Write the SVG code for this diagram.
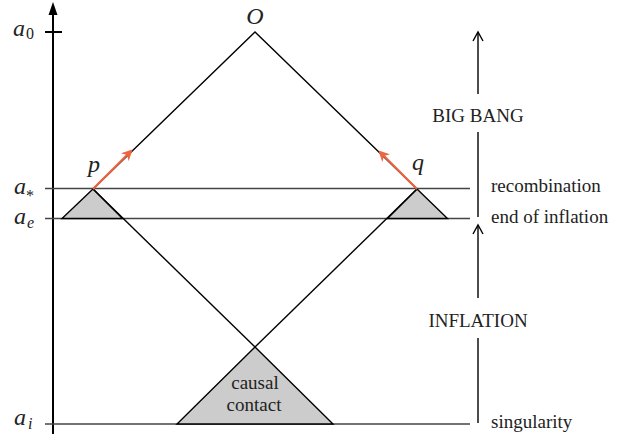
<svg xmlns="http://www.w3.org/2000/svg" width="635" height="437" viewBox="0 0 635 437">
<defs>
<style>
.ln{stroke:#000;stroke-width:1.4;fill:none}
.hl{stroke:#444;stroke-width:1.4;fill:none}
.tri{fill:#cccccc;stroke:#000;stroke-width:1.4}
.red{stroke:#ec6440;stroke-width:2.2;fill:none}
.txt{font-family:'Liberation Serif',serif;font-size:19px;fill:#222}
.math{font-family:'Liberation Serif',serif;font-style:italic;font-size:24px;fill:#222}
.sub{font-family:'Liberation Serif',serif;font-size:16px;fill:#222}
.subi{font-family:'Liberation Serif',serif;font-style:italic;font-size:16px;fill:#222}
</style>
<marker id="redhead" viewBox="0 0 10 10" refX="8" refY="5" markerWidth="5" markerHeight="5" orient="auto" markerUnits="strokeWidth">
<path d="M0,0 L10,5 L0,10 L3,5 Z" fill="#ec6440"/>
</marker>
</defs>
<rect width="635" height="437" fill="#fff"/>

<g id="axis">
<line x1="53" y1="434" x2="53" y2="12" stroke="#000" stroke-width="2"/>
<path d="M53,2 L57.5,15 L48.5,15 Z" fill="#000"/>
<line x1="45" y1="32" x2="62" y2="32" stroke="#000" stroke-width="2"/>
</g>

<g id="levels">
<line class="hl" x1="45" y1="188.5" x2="470" y2="188.5"/>
<line class="hl" x1="45" y1="218.5" x2="470" y2="218.5"/>
<line class="hl" x1="45" y1="424" x2="470" y2="424"/>
</g>

<g id="triangles">
<polygon class="tri" points="93,189 62,218.5 122.5,218.5"/>
<polygon class="tri" points="417,189 387.5,218.5 447.5,218.5"/>
<polygon class="tri" points="255,347 177,424 333,424"/>
</g>

<g id="connectors">
<polyline class="ln" points="93,189 255,32 417,189"/>
<line class="ln" x1="93" y1="189" x2="255" y2="347"/>
<line class="ln" x1="417" y1="189" x2="255" y2="347"/>
<line class="red" x1="93" y1="189" x2="131" y2="151" marker-end="url(#redhead)"/>
<line class="red" x1="417" y1="189" x2="380" y2="152" marker-end="url(#redhead)"/>
<line class="ln" x1="478" y1="94" x2="478" y2="33"/>
<polyline class="ln" points="473,41 478,32 483,41"/>
<line class="ln" x1="478" y1="132" x2="478" y2="217"/>
<line class="ln" x1="478" y1="298" x2="478" y2="226"/>
<polyline class="ln" points="473,234 478,225 483,234"/>
<line class="ln" x1="478" y1="338" x2="478" y2="423"/>
</g>

<g id="label-O"><text class="math" x="255" y="24" text-anchor="middle">O</text></g>
<g id="label-p"><text class="math" x="94" y="172" text-anchor="middle">p</text></g>
<g id="label-q"><text class="math" x="418" y="170" text-anchor="middle">q</text></g>

<g id="label-a0"><text class="math" x="13" y="36">a</text><text class="sub" x="26" y="39">0</text></g>
<g id="label-astar"><text class="math" x="14" y="194">a</text><text class="sub" x="26" y="201">*</text></g>
<g id="label-ae"><text class="math" x="14" y="224">a</text><text class="subi" x="27" y="228">e</text></g>
<g id="label-ai"><text class="math" x="14" y="425">a</text><text class="subi" x="28" y="429">i</text></g>

<g id="label-bigbang"><text class="txt" x="478" y="122" text-anchor="middle">BIG BANG</text></g>
<g id="label-inflation"><text class="txt" x="478" y="327" text-anchor="middle">INFLATION</text></g>
<g id="label-recombination"><text class="txt" x="491" y="192">recombination</text></g>
<g id="label-endinfl"><text class="txt" x="491" y="223">end of inflation</text></g>
<g id="label-singularity"><text class="txt" x="491" y="428">singularity</text></g>
<g id="label-causal"><text class="txt" x="255" y="389" text-anchor="middle">causal</text><text class="txt" x="254" y="411" text-anchor="middle">contact</text></g>
</svg>
